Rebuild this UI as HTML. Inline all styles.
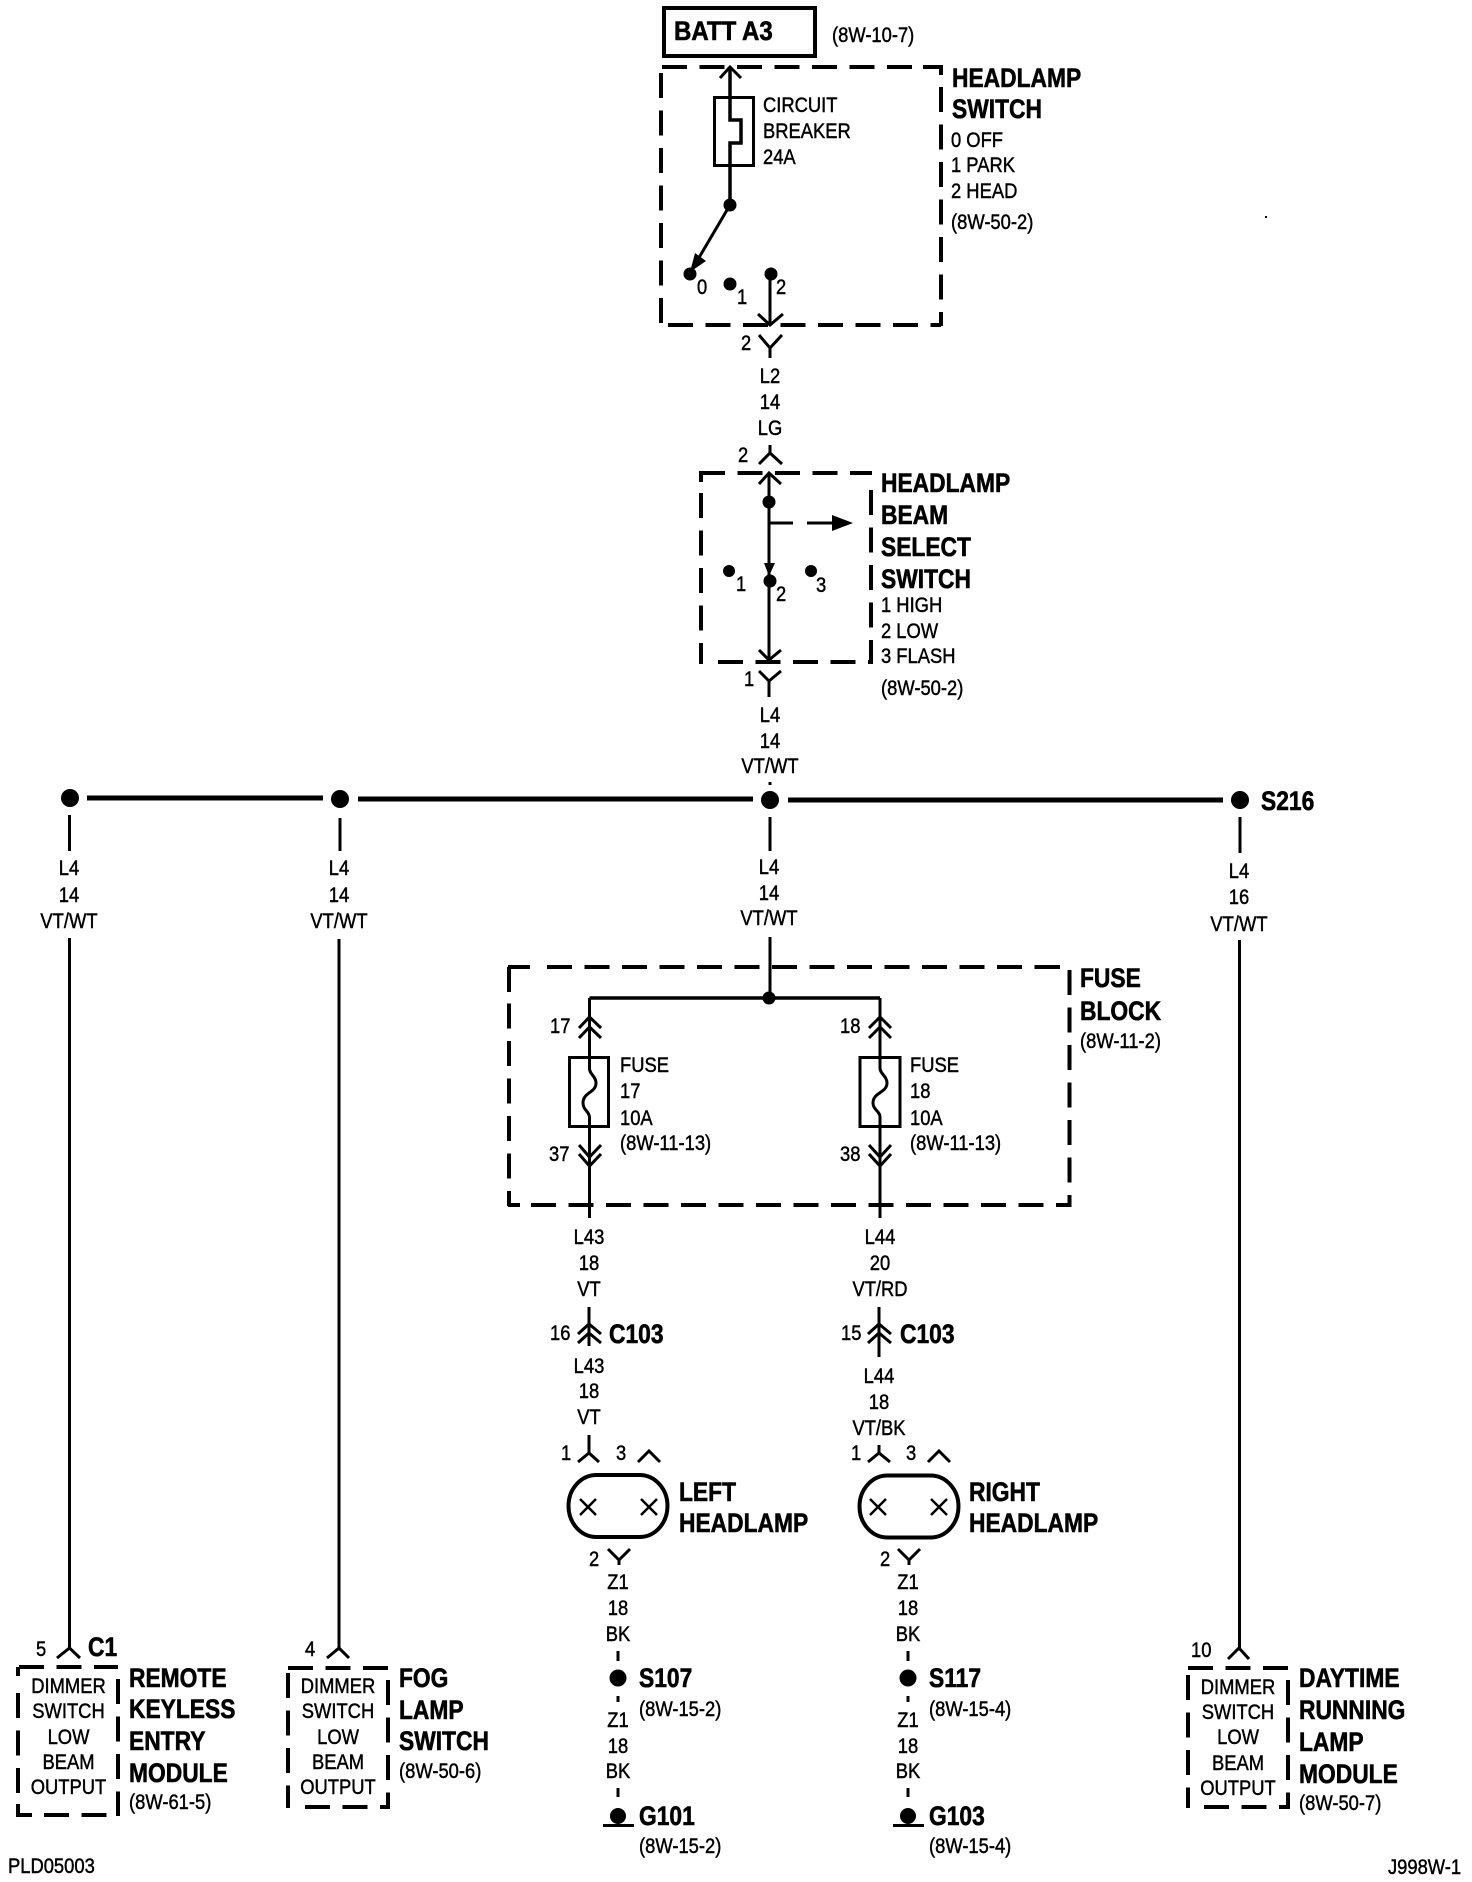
<!DOCTYPE html>
<html lang="en"><head><meta charset="utf-8"><title>Headlamp wiring diagram</title>
<style>
html,body{margin:0;padding:0;background:#fff}
svg{display:block}
text{font-family:"Liberation Sans",Arial,sans-serif;fill:#000;transform-box:fill-box}
.r{font-size:21px;stroke:#000;stroke-width:.45px;transform:scaleX(.875);transform-origin:0 50%}
.c{font-size:21px;stroke:#000;stroke-width:.45px;text-anchor:middle;transform:scaleX(.875);transform-origin:50% 50%}
.b{font-size:27px;font-weight:bold;stroke:#000;stroke-width:.6px;transform:scaleX(.845);transform-origin:0 50%}
.w{fill:none;stroke:#000;stroke-width:3}
.d{fill:none;stroke:#000;stroke-width:4;stroke-dasharray:25 12.5}
.t{fill:none;stroke:#000;stroke-width:3}
</style></head><body>
<svg xmlns="http://www.w3.org/2000/svg" width="1472" height="1882" viewBox="0 0 1472 1882">
<rect width="1472" height="1882" fill="#fff"/>

<!-- BATT A3 -->
<rect x="664" y="8" width="151" height="48" fill="none" stroke="#000" stroke-width="4"/>
<text class="b" x="674" y="40" style="transform:scaleX(.89)">BATT A3</text>
<text class="r" x="832" y="42">(8W-10-7)</text>

<!-- Headlamp switch box -->
<path class="d" d="M662 67H941M941 87V326M661 73V326M668 325H941"/>
<path class="w" d="M923 67H941V75" style="stroke-width:4"/>
<path class="w" d="M730 67V120H741V143H730V205" style="stroke-width:3.5"/>
<path class="w" d="M720 78L730 67L741 78"/>
<rect x="714.500" y="97.500" width="39" height="68" fill="none" stroke="#000" stroke-width="3"/>
<text class="r" x="763" y="112">CIRCUIT</text>
<text class="r" x="763" y="138">BREAKER</text>
<text class="r" x="763" y="164">24A</text>
<circle cx="730" cy="205" r="6.500"/>
<path class="w" d="M730 205L697 261"/>
<path d="M695 253L690 272L706 261Z"/>
<circle cx="690" cy="274" r="6.500"/>
<circle cx="730" cy="284" r="6.500"/>
<circle cx="771" cy="274" r="6.500"/>
<path class="w" d="M770 274V325M758 314L770 325L783 314"/>
<text class="r" x="697" y="294">0</text>
<text class="r" x="737" y="304">1</text>
<text class="r" x="776" y="294">2</text>
<text class="b" x="952" y="87">HEADLAMP</text>
<text class="b" x="952" y="118">SWITCH</text>
<text class="r" x="951" y="147">0 OFF</text>
<text class="r" x="951" y="172">1 PARK</text>
<text class="r" x="951" y="198">2 HEAD</text>
<text class="r" x="951" y="229">(8W-50-2)</text>

<!-- Connector L2 -->
<text class="r" x="741" y="350">2</text>
<path class="w" d="M759 335L770 348L782 335M770 348V358"/>
<text class="c" x="770" y="383">L2</text>
<text class="c" x="770" y="409">14</text>
<text class="c" x="770" y="435">LG</text>
<text class="r" x="738" y="462">2</text>
<path class="w" d="M770 445V453M759 464L770 453L782 464"/>

<!-- Beam select box -->
<path class="d" d="M700 473H872M871 490V664M701 493V664M718 662H870"/>
<path class="w" d="M701 482V473H712M701 655V663" style="stroke-width:4"/>
<path class="w" d="M769 473V660M759 484L769 473L781 484M759 650L769 660L781 650"/>
<circle cx="769" cy="502" r="6.500"/>
<path class="w" d="M770 523H793M807 523H833"/>
<path d="M832 515L853 523L832 531Z"/>
<path d="M764 563L775 563L769 576Z"/>
<circle cx="770" cy="581" r="6.500"/>
<circle cx="729" cy="571" r="6"/>
<circle cx="811" cy="571" r="6"/>
<text class="r" x="736" y="591">1</text>
<text class="r" x="776" y="601">2</text>
<text class="r" x="816" y="592">3</text>
<text class="b" x="881" y="492">HEADLAMP</text>
<text class="b" x="881" y="524">BEAM</text>
<text class="b" x="881" y="556">SELECT</text>
<text class="b" x="881" y="588">SWITCH</text>
<text class="r" x="881" y="612">1 HIGH</text>
<text class="r" x="881" y="638">2 LOW</text>
<text class="r" x="881" y="663">3 FLASH</text>
<text class="r" x="881" y="695">(8W-50-2)</text>

<text class="r" x="744" y="686">1</text>
<path class="w" d="M759 671L769 681L781 671M769 681V697"/>
<text class="c" x="770" y="722">L4</text>
<text class="c" x="770" y="748">14</text>
<text class="c" x="770" y="773">VT/WT</text>
<path class="t" d="M770 782V785"/>

<!-- Main bus -->
<path d="M87 798H323M358 799H753M788 800H1223" fill="none" stroke="#000" stroke-width="5"/>
<circle cx="70" cy="798" r="9"/>
<circle cx="340" cy="799" r="9"/>
<circle cx="770" cy="800" r="9"/>
<circle cx="1240" cy="800" r="9"/>
<text class="b" x="1261" y="810">S216</text>

<!-- Drops -->
<path class="t" d="M69.500 815V851M69.500 938V1648M340 818V851M339 939V1648M770 817V851M770 937V998M1240 817V853M1239.500 940V1648"/>
<text class="c" x="69" y="875">L4</text>
<text class="c" x="69" y="902">14</text>
<text class="c" x="69" y="928">VT/WT</text>
<text class="c" x="339" y="875">L4</text>
<text class="c" x="339" y="902">14</text>
<text class="c" x="339" y="928">VT/WT</text>
<text class="c" x="769" y="874">L4</text>
<text class="c" x="769" y="900">14</text>
<text class="c" x="769" y="925">VT/WT</text>
<text class="c" x="1239" y="878">L4</text>
<text class="c" x="1239" y="904">16</text>
<text class="c" x="1239" y="931">VT/WT</text>

<!-- Fuse block -->
<path class="d" d="M547 967H1060M1069.500 970V1207M509 1003.500V1206M531 1205H1070"/>
<path class="w" d="M508 967H530M509 967V992" style="stroke-width:4"/>
<path class="w" d="M508 1205H520" style="stroke-width:4"/>
<path class="w" d="M1058 967H1060" style="stroke-width:4"/>
<path class="w" d="M589.500 998H880" style="stroke-width:3.500"/>
<circle cx="769" cy="998" r="6.500"/>
<text class="b" x="1080" y="987">FUSE</text>
<text class="b" x="1080" y="1020">BLOCK</text>
<text class="r" x="1080" y="1048">(8W-11-2)</text>

<!-- left fuse -->
<path class="w" d="M589.500 998V1068C589 1074 596 1076 596 1083C596 1093 583 1092 583 1103C583 1110 589 1111 589.500 1117V1165V1218"/>
<path class="w" d="M579 1028L589.500 1017L601 1028M579 1038L589.500 1027L601 1038M579 1145L589.500 1157L601 1145M579 1154L589.500 1166L601 1154"/>
<rect x="569.500" y="1057.500" width="39" height="69" fill="none" stroke="#000" stroke-width="3"/>
<text class="r" x="550" y="1033">17</text>
<text class="r" x="549" y="1161">37</text>
<text class="r" x="620" y="1072">FUSE</text>
<text class="r" x="620" y="1098">17</text>
<text class="r" x="620" y="1125">10A</text>
<text class="r" x="620" y="1150">(8W-11-13)</text>
<!-- right fuse -->
<path class="w" d="M880 998V1068C880 1074 887 1076 887 1083C887 1093 873 1092 873 1103C873 1110 880 1111 880 1117V1165V1218"/>
<path class="w" d="M869 1028L880 1017L891 1028M869 1038L880 1027L891 1038M869 1145L880 1157L891 1145M869 1154L880 1166L891 1154"/>
<rect x="860" y="1057.500" width="40" height="69" fill="none" stroke="#000" stroke-width="3"/>
<text class="r" x="840" y="1033">18</text>
<text class="r" x="840" y="1161">38</text>
<text class="r" x="910" y="1072">FUSE</text>
<text class="r" x="910" y="1098">18</text>
<text class="r" x="910" y="1125">10A</text>
<text class="r" x="910" y="1150">(8W-11-13)</text>

<text class="c" x="589" y="1244">L43</text>
<text class="c" x="589" y="1270">18</text>
<text class="c" x="589" y="1296">VT</text>
<text class="c" x="880" y="1244">L44</text>
<text class="c" x="880" y="1270">20</text>
<text class="c" x="880" y="1296">VT/RD</text>

<!-- C103 -->
<path class="w" d="M589 1307V1346M578 1334L589 1324L601 1334M578 1343L589 1333L601 1343"/>
<path class="w" d="M879 1307V1357M868 1334L879 1324L891 1334M868 1343L879 1333L891 1343"/>
<text class="r" x="550" y="1340">16</text>
<text class="r" x="841" y="1340">15</text>
<text class="b" x="609" y="1343">C103</text>
<text class="b" x="900" y="1343">C103</text>
<text class="c" x="589" y="1373">L43</text>
<text class="c" x="589" y="1398">18</text>
<text class="c" x="589" y="1424">VT</text>
<text class="c" x="879" y="1383">L44</text>
<text class="c" x="879" y="1409">18</text>
<text class="c" x="879" y="1435">VT/BK</text>

<!-- Lamps -->
<path class="w" d="M589 1435V1453M578 1462L589 1453L599 1462M638 1462L649 1451L660 1462"/>
<path class="w" d="M879 1445V1453M868 1462L879 1453L890 1462M928 1462L939 1451L950 1462"/>
<text class="r" x="561" y="1460">1</text>
<text class="r" x="616" y="1460">3</text>
<text class="r" x="851" y="1460">1</text>
<text class="r" x="906" y="1460">3</text>
<rect x="568.500" y="1475" width="99" height="62" rx="28" ry="31" fill="none" stroke="#000" stroke-width="4"/>
<rect x="859.500" y="1475.500" width="99" height="62" rx="28" ry="31" fill="none" stroke="#000" stroke-width="4"/>
<path class="w" d="M580 1499L596 1515M596 1499L580 1515M641 1499L657 1515M657 1499L641 1515M870 1499L886 1515M886 1499L870 1515M931 1499L947 1515M947 1499L931 1515" style="stroke-width:2.500"/>
<text class="b" x="679" y="1501">LEFT</text>
<text class="b" x="679" y="1532">HEADLAMP</text>
<text class="b" x="969" y="1501">RIGHT</text>
<text class="b" x="969" y="1532">HEADLAMP</text>

<!-- Below lamps, left -->
<text class="r" x="589" y="1566">2</text>
<path class="w" d="M608 1549L619 1560L630 1549M619 1560V1565"/>
<text class="c" x="618" y="1589">Z1</text>
<text class="c" x="618" y="1615">18</text>
<text class="c" x="618" y="1641">BK</text>
<path class="t" d="M618 1651V1661M618 1696V1702M618 1788V1797"/>
<circle cx="618" cy="1678" r="8.500"/>
<text class="b" x="639" y="1687">S107</text>
<text class="r" x="639" y="1716">(8W-15-2)</text>
<text class="c" x="618" y="1727">Z1</text>
<text class="c" x="618" y="1753">18</text>
<text class="c" x="618" y="1778">BK</text>
<circle cx="618" cy="1816" r="8"/>
<path class="w" d="M603 1825.500H634" style="stroke-width:3"/>
<text class="b" x="639" y="1825">G101</text>
<text class="r" x="639" y="1853">(8W-15-2)</text>

<!-- Below lamps, right -->
<text class="r" x="880" y="1566">2</text>
<path class="w" d="M898 1549L909 1560L920 1549M909 1560V1565"/>
<text class="c" x="908" y="1589">Z1</text>
<text class="c" x="908" y="1615">18</text>
<text class="c" x="908" y="1641">BK</text>
<path class="t" d="M908 1651V1661M908 1696V1702M908 1788V1797"/>
<circle cx="908" cy="1678" r="8.500"/>
<text class="b" x="929" y="1687">S117</text>
<text class="r" x="929" y="1716">(8W-15-4)</text>
<text class="c" x="908" y="1727">Z1</text>
<text class="c" x="908" y="1753">18</text>
<text class="c" x="908" y="1778">BK</text>
<circle cx="908" cy="1816" r="8"/>
<path class="w" d="M893 1825.500H924" style="stroke-width:3"/>
<text class="b" x="929" y="1825">G103</text>
<text class="r" x="929" y="1853">(8W-15-4)</text>

<!-- Module 1 -->
<path class="w" d="M57 1658L69.500 1648L80 1658M327 1658L339 1648L349 1658M1228 1659L1239 1648L1249 1659"/>
<text class="r" x="36" y="1656">5</text>
<text class="b" x="88" y="1656" style="font-size:27px">C1</text>
<path class="d" d="M19 1667H118M18 1693V1817M118 1679V1816M44 1815H108"/>
<path class="w" d="M18 1676V1667M17 1815H32M18 1804V1816" style="stroke-width:4"/>
<text class="c" x="68.500" y="1693">DIMMER</text>
<text class="c" x="68.500" y="1718">SWITCH</text>
<text class="c" x="68.500" y="1744">LOW</text>
<text class="c" x="68.500" y="1769">BEAM</text>
<text class="c" x="68.500" y="1794">OUTPUT</text>
<text class="b" x="129" y="1687">REMOTE</text>
<text class="b" x="129" y="1718">KEYLESS</text>
<text class="b" x="129" y="1750">ENTRY</text>
<text class="b" x="129" y="1782">MODULE</text>
<text class="r" x="129" y="1809">(8W-61-5)</text>

<!-- Module 2 -->
<text class="r" x="305" y="1656">4</text>
<path class="d" d="M288 1668H388M288 1673V1808M388 1680V1808M305 1807H390"/>
<text class="c" x="338" y="1693">DIMMER</text>
<text class="c" x="338" y="1718">SWITCH</text>
<text class="c" x="338" y="1744">LOW</text>
<text class="c" x="338" y="1769">BEAM</text>
<text class="c" x="338" y="1794">OUTPUT</text>
<text class="b" x="399" y="1687">FOG</text>
<text class="b" x="399" y="1719">LAMP</text>
<text class="b" x="399" y="1750">SWITCH</text>
<text class="r" x="399" y="1778">(8W-50-6)</text>

<!-- Module 3 -->
<text class="r" x="1191" y="1657">10</text>
<path class="d" d="M1188 1668H1288M1188 1675V1808M1288 1680V1808M1204 1807H1290"/>
<text class="c" x="1238" y="1694">DIMMER</text>
<text class="c" x="1238" y="1719">SWITCH</text>
<text class="c" x="1238" y="1744">LOW</text>
<text class="c" x="1238" y="1770">BEAM</text>
<text class="c" x="1238" y="1795">OUTPUT</text>
<text class="b" x="1299" y="1687">DAYTIME</text>
<text class="b" x="1299" y="1719">RUNNING</text>
<text class="b" x="1299" y="1751">LAMP</text>
<text class="b" x="1299" y="1783">MODULE</text>
<text class="r" x="1299" y="1810">(8W-50-7)</text>

<!-- Footer -->
<text class="r" x="8" y="1873">PLD05003</text>
<text class="r" x="1388" y="1874">J998W-1</text>
<rect x="1265" y="216" width="2" height="2"/>
</svg>
</body></html>
